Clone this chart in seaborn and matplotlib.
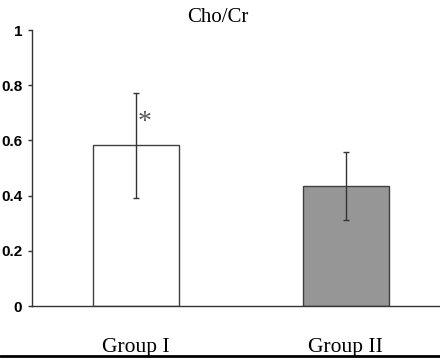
import matplotlib
matplotlib.use("Agg")
import matplotlib.pyplot as plt
import seaborn as sns
import pandas as pd
from matplotlib.lines import Line2D

# data
groups = ["Group I", "Group II"]
means = [0.583, 0.435]
errors = [0.19, 0.122]
bar_colors = ["#ffffff", "#969696"]
yticks = [0, 0.2, 0.4, 0.6, 0.8, 1]
ytick_labels = ["0", "0.2", "0.4", "0.6", "0.8", "1"]
title = "Cho/Cr"
star = "*"

sns.set_style("white")
plt.rcParams["font.family"] = ["Liberation Serif", "DejaVu Serif"]

df = pd.DataFrame({"group": groups, "mean": means, "err": errors})

fig = plt.figure(figsize=(4.4, 3.58), dpi=100)
ax = fig.add_axes([32 / 440, 1 - 306 / 358, 1 - 32 / 440, (306 - 30) / 358])

sns.barplot(data=df, x="group", y="mean", hue="group", palette=bar_colors,
            edgecolor="#404040", linewidth=1, width=0.41, legend=False, ax=ax)
ax.errorbar(range(len(groups)), df["mean"], yerr=df["err"], fmt="none",
            ecolor="#333333", elinewidth=1, capsize=2.5, capthick=1)

# significance marker
ax.text(0.04, 0.665, star, ha="center", va="center", fontsize=20, color="#555555")

ax.set_ylim(0, 1)
ax.set_xlim(-0.496, 1.45)
ax.set_yticks(yticks)
ax.set_yticklabels(ytick_labels, family=["Liberation Sans", "DejaVu Sans"],
                   fontweight="bold", fontsize=11, color="black")
ax.set_xticks(range(len(groups)))
ax.set_xticklabels(groups, fontsize=15.5, color="black")
ax.tick_params(axis="x", length=0, pad=23)
ax.tick_params(axis="y", left=True, length=3, width=1, color="#333333", pad=4)
ax.set_xlabel("")
ax.set_ylabel("")

sns.despine(ax=ax)
for s in ["left", "bottom"]:
    ax.spines[s].set_color("#333333")
    ax.spines[s].set_linewidth(1)

fig.text(0.495, 1 - 8 / 358, title, ha="center", va="top", fontsize=15, color="black")
fig.add_artist(Line2D([0, 1], [1 - 356 / 358, 1 - 356 / 358], color="black", lw=2,
                      transform=fig.transFigure))

fig.savefig("out.png", dpi=100)
